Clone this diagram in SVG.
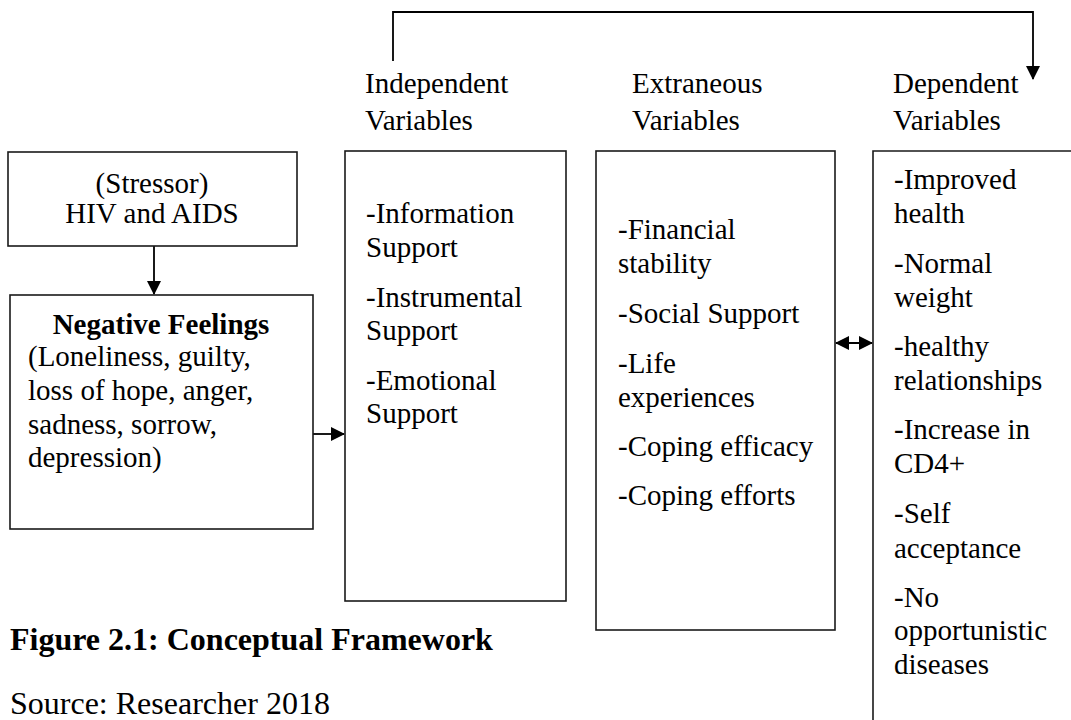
<svg xmlns="http://www.w3.org/2000/svg" width="1071" height="720" viewBox="0 0 1071 720">
<defs>
<style>
text{font-family:"Liberation Serif","Times New Roman",serif;font-size:29px;fill:#000}
.b{font-weight:bold}
.cap{font-size:32px}
.box{fill:none;stroke:#1a1a1a;stroke-width:1.6}
.ln{fill:none;stroke:#000;stroke-width:1.8}
</style>
<marker id="ah" markerWidth="14" markerHeight="14" refX="13" refY="7" orient="auto-start-reverse" markerUnits="userSpaceOnUse">
<path d="M0,0 L14,7 L0,14 Z" fill="#000"/>
</marker>
</defs>
<rect width="1071" height="720" fill="#fff"/>

<g id="connectors">
<path class="ln" d="M393,61 V12 H1033 V79" marker-end="url(#ah)"/>
<path class="ln" d="M154,246 V294" marker-end="url(#ah)"/>
<path class="ln" d="M313,434 H344" marker-end="url(#ah)"/>
<path class="ln" d="M836,343 H872" marker-start="url(#ah)" marker-end="url(#ah)"/>
</g>

<g id="stressor">
<rect class="box" x="8" y="152" width="289" height="94"/>
<text x="152" y="193" text-anchor="middle">(Stressor)</text>
<text x="152" y="223" text-anchor="middle">HIV and AIDS</text>
</g>

<g id="negative-feelings">
<rect class="box" x="10" y="295" width="303" height="234"/>
<text class="b" x="161" y="334" text-anchor="middle">Negative Feelings</text>
<text x="28" y="366">(Loneliness, guilty,</text>
<text x="28" y="400">loss of hope, anger,</text>
<text x="28" y="434">sadness, sorrow,</text>
<text x="28" y="467">depression)</text>
</g>

<g id="independent">
<text x="365" y="93">Independent</text>
<text x="365" y="130">Variables</text>
<rect class="box" x="345" y="151" width="221" height="450"/>
<text x="366" y="223">-Information</text>
<text x="366" y="257">Support</text>
<text x="366" y="307">-Instrumental</text>
<text x="366" y="340">Support</text>
<text x="366" y="390">-Emotional</text>
<text x="366" y="423">Support</text>
</g>

<g id="extraneous">
<text x="632" y="93">Extraneous</text>
<text x="632" y="130">Variables</text>
<rect class="box" x="596" y="151" width="239" height="479"/>
<text x="618" y="239">-Financial</text>
<text x="618" y="273">stability</text>
<text x="618" y="323">-Social Support</text>
<text x="618" y="373">-Life</text>
<text x="618" y="407">experiences</text>
<text x="618" y="456">-Coping efficacy</text>
<text x="618" y="505">-Coping efforts</text>
</g>

<g id="dependent">
<text x="893" y="93">Dependent</text>
<text x="893" y="130">Variables</text>
<path class="box" d="M873,722 V151 H1073"/>
<text x="894" y="189">-Improved</text>
<text x="894" y="223">health</text>
<text x="894" y="273">-Normal</text>
<text x="894" y="307">weight</text>
<text x="894" y="356">-healthy</text>
<text x="894" y="390">relationships</text>
<text x="894" y="439">-Increase in</text>
<text x="894" y="473">CD4+</text>
<text x="894" y="523">-Self</text>
<text x="894" y="558">acceptance</text>
<text x="894" y="607">-No</text>
<text x="894" y="640">opportunistic</text>
<text x="894" y="674">diseases</text>
</g>

<g id="caption">
<text class="b cap" x="10" y="650">Figure 2.1: Conceptual Framework</text>
<text class="cap" x="10" y="714">Source: Researcher 2018</text>
</g>
</svg>
